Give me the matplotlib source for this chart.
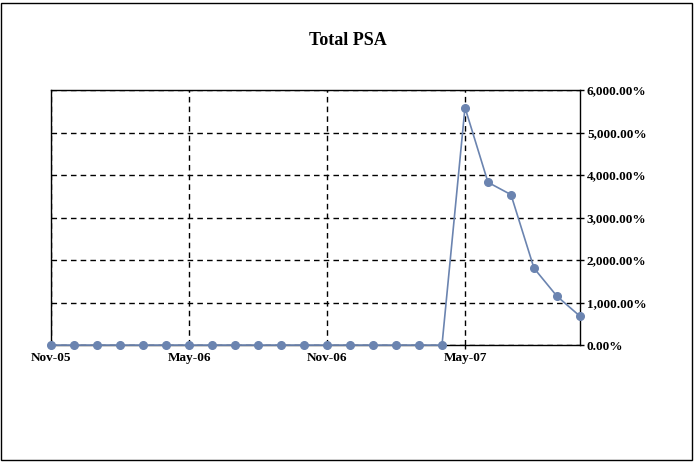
import matplotlib.pyplot as plt
from matplotlib.patches import Rectangle
from matplotlib.ticker import FuncFormatter

months = ["Nov-05", "Dec-05", "Jan-06", "Feb-06", "Mar-06", "Apr-06", "May-06",
          "Jun-06", "Jul-06", "Aug-06", "Sep-06", "Oct-06", "Nov-06", "Dec-06",
          "Jan-07", "Feb-07", "Mar-07", "Apr-07", "May-07", "Jun-07", "Jul-07",
          "Aug-07", "Sep-07", "Oct-07"]
psa = [0, 0, 0, 0, 0, 0, 0, 0, 0, 0, 0, 0, 0, 0, 0, 0, 0, 0,
       5590, 3830, 3540, 1810, 1150, 680]
tick_labels = ["Nov-05", "May-06", "Nov-06", "May-07"]

plt.rcParams['font.family'] = ['Liberation Serif', 'DejaVu Serif']

fig = plt.figure(figsize=(6.96, 4.62), dpi=100)
ax = fig.add_axes([0.0733, 0.253, 0.760, 0.552])

x = list(range(len(months)))
ax.plot(x, psa, color="#6b84b0", lw=1.2, marker="o", markersize=5.5,
        markeredgecolor="#6b84b0", zorder=3, clip_on=False)

ax.set_xlim(0, len(months) - 1)
ax.set_ylim(0, 6000)
ticks = [months.index(t) for t in tick_labels]
ax.set_xticks(ticks)
ax.set_xticklabels(tick_labels, fontsize=9.5, fontweight="bold")
ax.set_yticks(range(0, 6001, 1000))
ax.yaxis.set_major_formatter(FuncFormatter(lambda v, p: f"{v:,.2f}%"))
ax.yaxis.tick_right()
for lab in ax.get_yticklabels():
    lab.set_fontsize(9.5)
    lab.set_fontweight("bold")

ax.grid(True, color="black", linestyle=(0, (4, 3)), linewidth=1)
ax.tick_params(axis="both", length=3, width=1, color="black", pad=2)
for s in ax.spines.values():
    s.set_color("black")
    s.set_linewidth(1)

fig.text(0.5, 0.912, "Total PSA", ha="center", va="center",
         fontsize=13, fontweight="bold")

fig.patches.append(Rectangle((0.002, 0.004), 0.992, 0.99, transform=fig.transFigure,
                             fill=False, edgecolor="black", linewidth=1))

fig.savefig("out.png", dpi=100)
